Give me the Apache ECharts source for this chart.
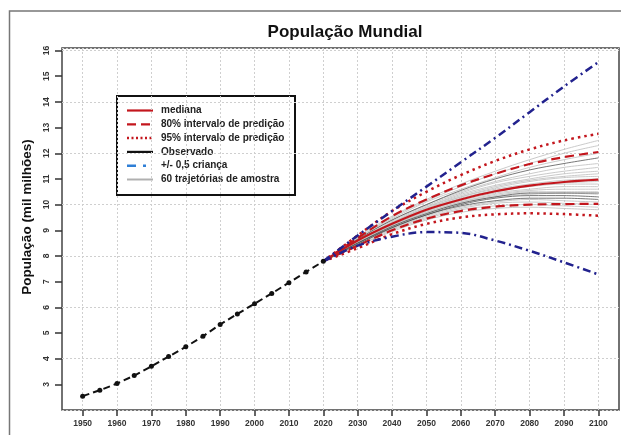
<!DOCTYPE html>
<html><head><meta charset="utf-8">
<script src="https://cdn.jsdelivr.net/npm/echarts@6/dist/echarts.min.js"></script>
<style>html,body{margin:0;padding:0;background:#fff}#c{width:621px;height:435px}</style>
</head><body><div id="c"></div>
<script>
// ---------- DATA ----------
const titleText = 'População Mundial';
const yAxisName = 'População (mil milhões)';
const xTicks = [1950,1960,1970,1980,1990,2000,2010,2020,2030,2040,2050,2060,2070,2080,2090,2100];
const yTicks = [3,4,5,6,7,8,9,10,11,12,13,14,15,16];

const obsYears = [1950,1955,1960,1965,1970,1975,1980,1985,1990,1995,2000,2005,2010,2015,2020];
const obsPop   = [2.54,2.77,3.03,3.34,3.70,4.08,4.46,4.87,5.33,5.74,6.14,6.54,6.96,7.38,7.79];

const projYears = [2020,2030,2040,2050,2060,2070,2080,2090,2100];
const median    = [7.79,8.60,9.25,9.80,10.20,10.52,10.74,10.88,10.97];
const pi80Upper = [7.79,8.70,9.55,10.20,10.75,11.20,11.58,11.85,12.05];
const pi80Lower = [7.79,8.40,9.00,9.45,9.75,9.92,10.00,10.02,10.03];
const pi95Upper = [7.79,8.80,9.75,10.50,11.15,11.70,12.15,12.50,12.76];
const pi95Lower = [7.79,8.30,8.85,9.25,9.50,9.62,9.66,9.63,9.57];
const halfChildUpper = [7.79,8.80,9.75,10.70,11.65,12.60,13.60,14.60,15.55];
const halfChildLower = [7.79,8.40,8.75,8.93,8.90,8.60,8.20,7.75,7.28];

// sample trajectories (values 2020..2100)
const trajectories = [
  [7.79,8.75,9.55,10.20,10.80,11.30,11.75,12.15,12.50],
  [7.79,8.70,9.50,10.15,10.70,11.20,11.60,12.00,12.30],
  [7.79,8.70,9.45,10.10,10.60,11.05,11.45,11.75,12.00],
  [7.79,8.65,9.40,10.00,10.55,11.00,11.35,11.60,11.82],
  [7.79,8.65,9.40,10.00,10.50,10.90,11.20,11.45,11.60],
  [7.79,8.60,9.35,9.95,10.45,10.85,11.10,11.30,11.45],
  [7.79,8.60,9.30,9.90,10.40,10.75,11.00,11.20,11.30],
  [7.79,8.60,9.30,9.90,10.35,10.70,10.95,11.10,11.20],
  [7.79,8.60,9.30,9.85,10.30,10.65,10.90,11.05,11.10],
  [7.79,8.55,9.25,9.85,10.30,10.60,10.80,10.95,11.00],
  [7.79,8.55,9.25,9.80,10.25,10.55,10.75,10.85,10.90],
  [7.79,8.55,9.20,9.75,10.20,10.50,10.70,10.80,10.80],
  [7.79,8.55,9.20,9.75,10.15,10.45,10.60,10.70,10.70],
  [7.79,8.50,9.20,9.70,10.10,10.40,10.55,10.60,10.60],
  [7.79,8.50,9.15,9.70,10.10,10.35,10.50,10.50,10.50],
  [7.79,8.50,9.15,9.65,10.05,10.30,10.45,10.45,10.45],
  [7.79,8.50,9.15,9.65,10.05,10.30,10.40,10.45,10.40],
  [7.79,8.50,9.10,9.60,10.00,10.25,10.35,10.35,10.30],
  [7.79,8.45,9.10,9.60,9.95,10.15,10.25,10.25,10.20],
  [7.79,8.45,9.05,9.55,9.90,10.10,10.20,10.15,10.10],
  [7.79,8.45,9.05,9.50,9.85,10.05,10.10,10.05,10.00],
  [7.79,8.40,9.00,9.45,9.80,9.95,10.00,9.95,9.90],
  [7.79,8.40,8.95,9.40,9.70,9.85,9.90,9.85,9.80]
];
const darkTrajectories = [3,15,17,18];

const legendLabels = ['mediana','80% intervalo de predição','95% intervalo de predição','Observado','+/- 0,5 criança','60 trajetórias de amostra'];

// ---------- STYLE ----------
const FONT = 'Liberation Sans, Arial, sans-serif';
const RED = '#c3161d';
const BLUE = '#22228e';
const pair = (xs, ys) => xs.map((x, i) => [x, ys[i]]);

const series = [];
trajectories.forEach((t, i) => {
  const dark = darkTrajectories.includes(i);
  series.push({
    type: 'line', data: pair(projYears, t), smooth: 0.35, symbol: 'none', silent: true,
    lineStyle: { color: dark ? '#4a4a4a' : '#c4c4c4', width: 1, opacity: dark ? 0.75 : 0.9 },
    z: dark ? 3 : 2
  });
});
function projLine(vals, color, type, width, z) {
  return { type: 'line', data: pair(projYears, vals), smooth: 0.35, symbol: 'none', silent: true,
    lineStyle: { color: color, type: type, width: width, cap: 'butt' }, z: z };
}
series.push(projLine(pi95Upper, RED, [2.5,4], 2.5, 5));
series.push(projLine(pi95Lower, RED, [2.5,4], 2.5, 5));
series.push(projLine(pi80Upper, RED, [9,5], 2.2, 5));
series.push(projLine(pi80Lower, RED, [9,5], 2.2, 5));
series.push(projLine(median, RED, 'solid', 2.2, 6));
series.push(projLine(halfChildUpper, BLUE, [8,4,2,4], 2.5, 6));
series.push(projLine(halfChildLower, BLUE, [8,4,2,4], 2.5, 6));
series.push({
  type: 'line', data: pair(obsYears, obsPop), symbol: 'circle', symbolSize: 5, silent: true,
  itemStyle: { color: '#111' }, lineStyle: { color: '#111', type: [7,4], width: 2 }, z: 7
});

// legend graphic
const LX = 117, LY = 96, LW = 178, LH = 99;
const legStyles = [
  { stroke: RED, lineDash: null, lineWidth: 2.2 },
  { stroke: RED, lineDash: [9,5], lineWidth: 2.2 },
  { stroke: RED, lineDash: [2,2.5], lineWidth: 2.5 },
  { stroke: '#111', lineDash: null, lineWidth: 2.2 },
  { stroke: '#2f7fd6', lineDash: [9,7,3,7], lineWidth: 2.5 },
  { stroke: '#b0b0b0', lineDash: null, lineWidth: 2 }
];
const legendChildren = [{
  type: 'rect', shape: { x: LX, y: LY, width: LW, height: LH },
  style: { fill: '#fff', stroke: '#111', lineWidth: 2 }
}];
legendLabels.forEach((lab, i) => {
  const y = 110.5 + i * 13.8;
  legendChildren.push({ type: 'line', shape: { x1: 127, y1: y, x2: 153, y2: y },
    style: Object.assign({}, legStyles[i]) });
  legendChildren.push({ type: 'text', x: 161, y: y,
    style: { text: lab, fill: '#222', font: 'bold 10px ' + FONT, textVerticalAlign: 'middle', verticalAlign: 'middle' } });
});

const option = {
  animation: false,
  backgroundColor: '#fff',
  title: { text: titleText, left: 340, top: 19, textAlign: 'center',
    textStyle: { fontFamily: FONT, fontSize: 17, fontWeight: 'bold', color: '#111' } },
  grid: { left: 62, right: 2, top: 48, bottom: 25, show: true, borderColor: '#444', borderWidth: 1.5, backgroundColor: '#fff' },
  xAxis: {
    type: 'value', min: 1944, max: 2106,
    axisLine: { show: false },
    axisTick: { show: true, customValues: xTicks, length: 6, lineStyle: { color: '#333', width: 1.5 } },
    axisLabel: { customValues: xTicks, formatter: v => String(v), fontFamily: FONT, fontSize: 8.5, fontWeight: 'bold', color: '#333', margin: 9 },
    splitLine: { show: true, lineStyle: { color: '#cfcfcf', type: [2,2], width: 1 } }
  },
  yAxis: [{
    type: 'value', min: 2, max: 16.1,
    name: yAxisName, nameLocation: 'middle', nameGap: 28,
    nameTextStyle: { fontFamily: FONT, fontSize: 13.5, fontWeight: 'bold', color: '#111', padding: [0,0,0,24] },
    axisLine: { show: false },
    axisTick: { show: true, customValues: yTicks, length: 7, lineStyle: { color: '#333', width: 1.5 } },
    axisLabel: { customValues: yTicks, formatter: v => String(v), rotate: 90, fontFamily: FONT, fontSize: 8.5, fontWeight: 'bold', color: '#333', margin: 11 },
    splitLine: { show: false }
  }, {
    type: 'value', min: 2, max: 16.1, interval: 2, position: 'right',
    axisLine: { show: false }, axisTick: { show: false }, axisLabel: { show: false },
    splitLine: { show: true, lineStyle: { color: '#cfcfcf', type: [2,2], width: 1 } }
  }],
  series: series,
  graphic: [
    { type: 'rect', shape: { x: 9.5, y: 11, width: 700, height: 500 }, style: { fill: null, stroke: '#777', lineWidth: 1.5 }, z: 100, silent: true },
    { type: 'group', children: legendChildren, z: 100 }
  ]
};
const chart = echarts.init(document.getElementById('c'), null, { renderer: 'canvas' });
chart.setOption(option);
</script></body></html>
